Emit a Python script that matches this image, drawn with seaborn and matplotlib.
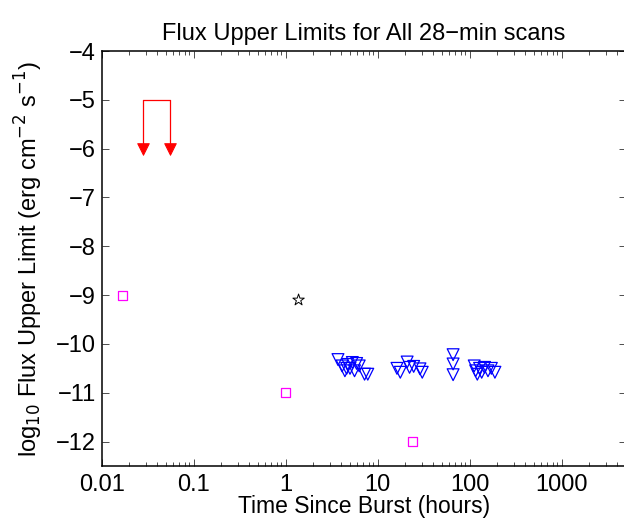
#!/usr/bin/env python3
# coding: utf-8

import matplotlib.pyplot as plt
import seaborn as sns
import pandas as pd
import numpy as np

plt.switch_backend('Agg')

# 28-min scan upper limits (hours since burst, log10 flux)
scan_hours = [3.7, 4.1, 4.4, 4.6, 4.7, 5.0, 5.3, 5.6, 5.9, 6.3, 7.2, 7.8,
              16.2, 17.6, 20.9, 22.2, 24.6, 28.8, 30.5,
              66.0, 66.0, 66.0,
              112, 116, 121, 128, 135, 145, 158, 172, 188]
scan_flux = [-10.32, -10.45, -10.55, -10.5, -10.42, -10.5, -10.38, -10.55,
             -10.4, -10.45, -10.62, -10.62,
             -10.5, -10.58, -10.37, -10.48, -10.46, -10.51, -10.58,
             -10.22, -10.41, -10.63,
             -10.45, -10.55, -10.62, -10.5, -10.58, -10.48, -10.55, -10.5, -10.58]

# other limits
square_hours = [0.0167, 1.0, 24.0]
square_flux = [-9.0, -11.0, -12.0]
star_hours = [1.38]
star_flux = [-9.1]

# early limits drawn as arrows from -5 down to -6
arrow_hours = [0.0278, 0.0556]
arrow_top = -5.0
arrow_bottom = -6.0

sns.set_style('ticks')
plt.rcParams['font.family'] = ['Liberation Sans', 'DejaVu Sans']
plt.rcParams['font.size'] = 17
plt.rcParams['text.color'] = 'black'
plt.rcParams['axes.labelcolor'] = 'black'

fig = plt.figure(figsize=(6.24, 5.19), dpi=100)
ax = fig.add_axes([101.7 / 624, 53 / 519, 524.3 / 624, 415 / 519])

scans = pd.DataFrame({'hours': scan_hours, 'flux': scan_flux})
squares = pd.DataFrame({'hours': square_hours, 'flux': square_flux})
stars = pd.DataFrame({'hours': star_hours, 'flux': star_flux})

sns.scatterplot(data=scans, x='hours', y='flux', marker='v', s=72,
                facecolor='none', edgecolor='blue', linewidth=0.9, ax=ax)
sns.scatterplot(data=squares, x='hours', y='flux', marker='s', s=44,
                facecolor='none', edgecolor='magenta', linewidth=0.9, ax=ax)
sns.scatterplot(data=stars, x='hours', y='flux', marker='*', s=75,
                facecolor='none', edgecolor='black', linewidth=0.7, ax=ax)

# red arrows
ax.plot(arrow_hours, [arrow_top] * len(arrow_hours), color='red', lw=0.9)
for h in arrow_hours:
    ax.plot([h, h], [arrow_top, arrow_bottom], color='red', lw=0.9)
sns.scatterplot(x=arrow_hours, y=[arrow_bottom] * len(arrow_hours), marker='v',
                s=70, color='red', edgecolor='red', ax=ax, zorder=3)

ax.set_xscale('log')
ax.set_xlim(0.01, 5000)
ax.set_ylim(-12.5, -4)
ax.set_xticks([0.01, 0.1, 1, 10, 100, 1000])
ax.set_xticklabels(['0.01', '0.1', '1', '10', '100', '1000'])
ax.set_yticks(np.arange(-12, -3))
ax.tick_params(which='both', direction='in', top=True, right=True,
               labelsize=17, width=0.7, color='0.3', labelcolor='black')
ax.tick_params(which='major', length=5)
ax.tick_params(which='minor', length=3)
ax.tick_params(axis='x', which='major', pad=6)
ax.tick_params(axis='y', which='major', pad=4)
for sp in ax.spines.values():
    sp.set_linewidth(1.1)
    sp.set_color('black')

ax.set_xlabel('Time Since Burst (hours)', fontsize=16.5, labelpad=-1,
              color='black')
ax.set_ylabel('log$_{10}$ Flux Upper Limit (erg cm$^{-2}$ s$^{-1}$)',
              fontsize=17, labelpad=8, color='black')
ax.set_title('Flux Upper Limits for All 28\u2212min scans', fontsize=17, pad=8,
             color='black')

plt.savefig('out.png', dpi=100)
